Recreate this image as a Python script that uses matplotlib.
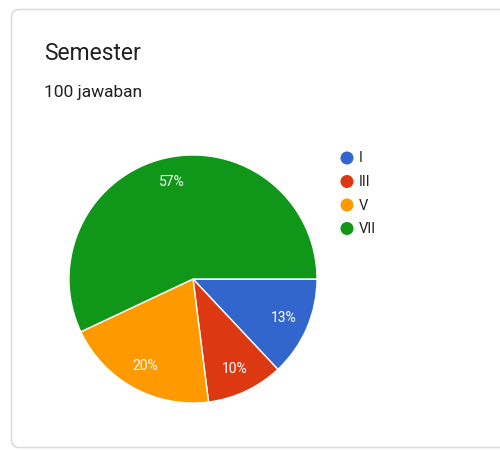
import matplotlib

matplotlib.use("Agg")
import matplotlib.pyplot as plt
from matplotlib.patches import FancyBboxPatch, Circle

plt.rcParams["font.family"] = ["Roboto", "DejaVu Sans"]

title = "Semester"
subtitle = "100 jawaban"
labels = ["I", "III", "V", "VII"]
values = [13, 10, 20, 57]
colors = ["#3366cc", "#dc3912", "#ff9900", "#109618"]

W, H = 500, 450
fig = plt.figure(figsize=(W / 100, H / 100), dpi=100)
fig.patch.set_facecolor("white")

# overlay in pixel coordinates (y downwards) for the card, titles and legend
bg = fig.add_axes([0, 0, 1, 1])
bg.set_xlim(0, W)
bg.set_ylim(H, 0)
bg.axis("off")

card = FancyBboxPatch(
    (11.5, 9.5), 520, 438,
    boxstyle="round,pad=0,rounding_size=8",
    facecolor="white", edgecolor="#dadce0", linewidth=1.2,
)
bg.add_patch(card)

bg.text(44, 54, title, fontsize=16.5, color="#202124", va="center", ha="left")
bg.text(44, 92, subtitle, fontsize=12.5, color="#202124", va="center", ha="left")

for i, (lab, col) in enumerate(zip(labels, colors)):
    y = 158 + i * 23.5
    bg.add_patch(Circle((347, y), 6.5, facecolor=col, edgecolor="none"))
    bg.text(359, y + 0.5, lab, fontsize=10.5, color="#222222", va="center", ha="left")

# pie, centre (193, 279), radius 124 px
cx, cy, r = 193, 279, 124
ax = fig.add_axes([(cx - r) / W, (H - cy - r) / H, 2 * r / W, 2 * r / H])
wedges, texts, autotexts = ax.pie(
    values,
    colors=colors,
    startangle=0,
    counterclock=False,
    autopct="%d%%",
    pctdistance=0.8,
    wedgeprops=dict(edgecolor="white", linewidth=1.0),
    textprops=dict(color="white", fontsize=10),
)
for w in wedges:
    w.set_clip_on(False)
ax.set_xlim(-1, 1)
ax.set_ylim(-1, 1)
ax.set_aspect("equal")
ax.axis("off")

fig.savefig("out.png", dpi=100, facecolor="white")
